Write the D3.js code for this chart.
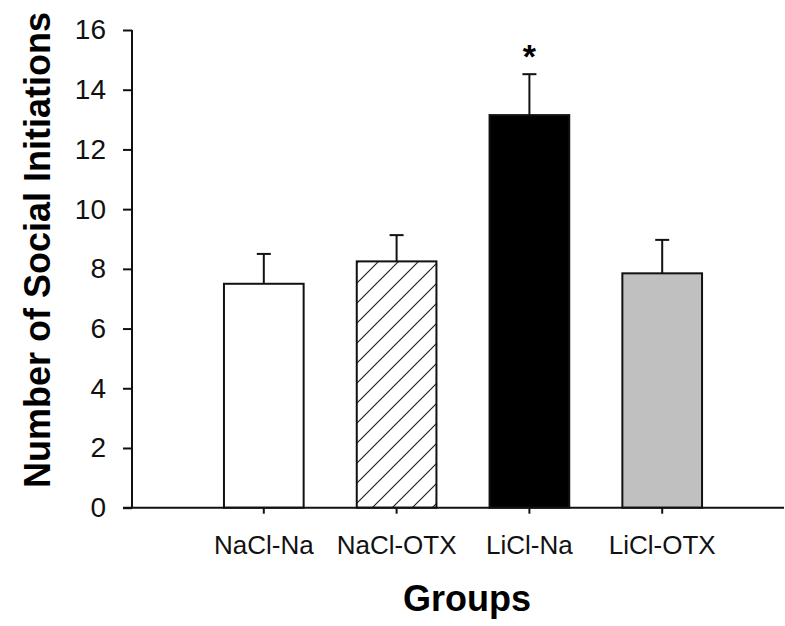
<!DOCTYPE html>
<html><head><meta charset="utf-8">
<script src="https://cdn.jsdelivr.net/npm/d3@7"></script>
<style>
html,body{margin:0;padding:0;background:#fff;}
svg{display:block;font-family:"Liberation Sans",Arial,sans-serif;}
</style></head>
<body>
<svg id="chart" width="785" height="626"></svg>
<script>
const groups = ["NaCl-Na", "NaCl-OTX", "LiCl-Na", "LiCl-OTX"];
const means = [7.5, 8.25, 13.15, 7.85];
const sems = [1.0, 0.88, 1.37, 1.12];
const yTicks = [0, 2, 4, 6, 8, 10, 12, 14, 16];
const significant = ["", "", "*", ""];
const fills = ["#ffffff", "url(#hatch)", "#000000", "#c0c0c0"];

const svg = d3.select("#chart");
const defs = svg.append("defs");
const pat = defs.append("pattern").attr("id", "hatch")
  .attr("patternUnits", "userSpaceOnUse").attr("width", 20).attr("height", 20);
pat.append("rect").attr("width", 20).attr("height", 20).attr("fill", "#fff");
pat.append("path").attr("d", "M-5,5 L5,-5 M0,20 L20,0 M15,25 L25,15")
  .attr("stroke", "#222").attr("stroke-width", 1.2);

const y = d3.scaleLinear().domain([0, 16]).range([507.7, 30]);
const x = d3.scaleBand().domain(groups).range([197.4, 728.6]).paddingInner(0.4).paddingOuter(0.2);

// bars
svg.append("g").selectAll("rect").data(groups).join("rect")
  .attr("x", d => x(d)).attr("width", x.bandwidth())
  .attr("y", (d, i) => y(means[i])).attr("height", (d, i) => y(0) - y(means[i]))
  .attr("fill", (d, i) => fills[i]).attr("stroke", "#111").attr("stroke-width", 2);

// error bars (upper only)
const eb = svg.append("g").attr("stroke", "#111").attr("stroke-width", 2);
groups.forEach((g, i) => {
  const cx = x(g) + x.bandwidth() / 2;
  eb.append("line").attr("x1", cx).attr("x2", cx).attr("y1", y(means[i])).attr("y2", y(means[i] + sems[i]));
  eb.append("line").attr("x1", cx - 7).attr("x2", cx + 7).attr("y1", y(means[i] + sems[i])).attr("y2", y(means[i] + sems[i]));
});

// significance
svg.append("g").selectAll("text").data(groups).join("text")
  .attr("x", d => x(d) + x.bandwidth() / 2)
  .attr("y", (d, i) => y(means[i] + sems[i]) - 6)
  .attr("text-anchor", "middle").attr("font-size", 34).attr("font-weight", "bold")
  .text((d, i) => significant[i]);

// y axis
const yAxis = svg.append("g").attr("transform", "translate(132,0)")
  .call(d3.axisLeft(y).tickValues(yTicks).tickSize(9).tickPadding(17));
yAxis.select(".domain").attr("stroke", "#111").attr("stroke-width", 2).attr("d", `M0,${y(16)}V${y(0)}`);
yAxis.selectAll(".tick line").attr("stroke", "#111").attr("stroke-width", 2);
yAxis.selectAll(".tick text").attr("font-size", 28).attr("fill", "#111")
  .attr("font-family", "'Liberation Sans', Arial, sans-serif");

// x axis
const xAxis = svg.append("g").attr("transform", `translate(0,${y(0)})`)
  .call(d3.axisBottom(x).tickSize(6).tickPadding(22));
xAxis.select(".domain").attr("stroke", "#111").attr("stroke-width", 2).attr("d", "M123,0H784");
xAxis.selectAll(".tick line").attr("stroke", "#111").attr("stroke-width", 2);
xAxis.selectAll(".tick text").attr("font-size", 26).attr("fill", "#111")
  .attr("font-family", "'Liberation Sans', Arial, sans-serif");

// axis titles
svg.append("text").attr("x", 467).attr("y", 611).attr("text-anchor", "middle")
  .attr("font-size", 36).attr("font-weight", "bold").attr("fill", "#000").text("Groups");
svg.append("text").attr("transform", "translate(50,250) rotate(-90)").attr("text-anchor", "middle")
  .attr("font-size", 36).attr("font-weight", "bold").attr("fill", "#000").text("Number of Social Initiations");
</script>
</body></html>
